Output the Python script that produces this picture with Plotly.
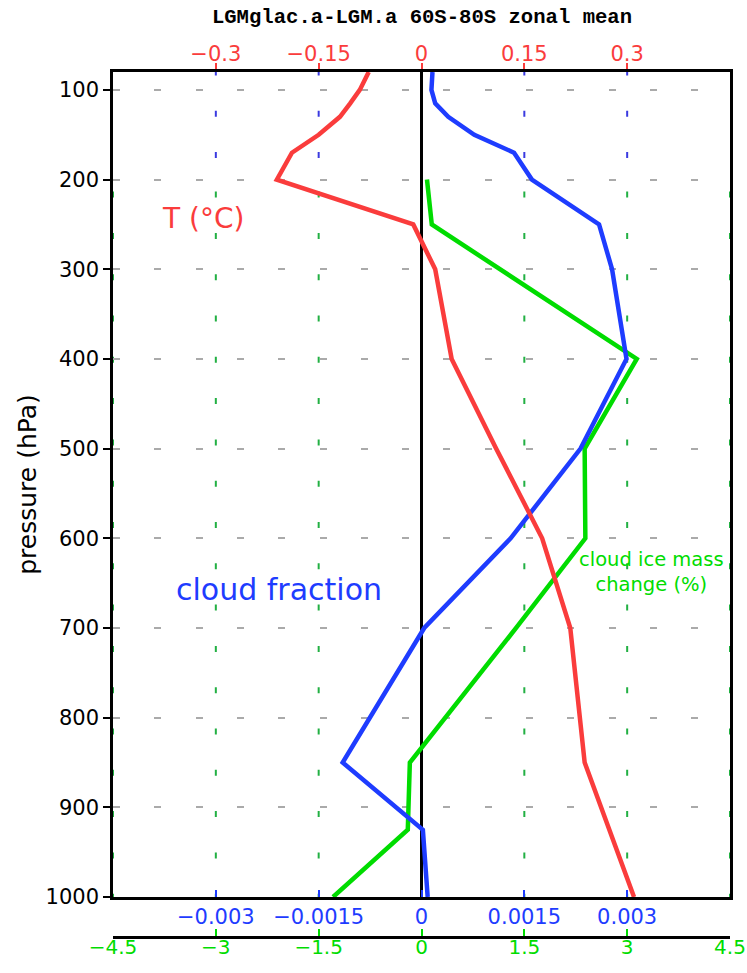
import plotly.graph_objects as go

# ---------------- data ----------------
t_pressure = [80, 100, 115, 130, 150, 170, 200, 250, 300, 400, 500, 600, 700, 850, 1000]
t_values = [-0.077, -0.090, -0.104, -0.119, -0.150, -0.189, -0.211, -0.012, 0.020,
            0.044, 0.109, 0.176, 0.217, 0.238, 0.310]

cf_pressure = [80, 100, 115, 130, 150, 170, 200, 250, 300, 400, 500, 600, 700, 850, 925, 1000]
cf_values = [0.00016, 0.000145, 0.0002, 0.00039, 0.00077, 0.00135, 0.00161, 0.00259,
             0.00278, 0.00299, 0.00232, 0.00130, 0.00004, -0.00115, 0.00002, 0.00009]

ice_pressure = [200, 250, 400, 500, 600, 700, 850, 925, 1000]
ice_values = [0.08, 0.15, 3.14, 2.38, 2.39, 1.38, -0.17, -0.20, -1.29]

p_ticks = [100, 200, 300, 400, 500, 600, 700, 800, 900, 1000]
t_ticks = [-0.3, -0.15, 0, 0.15, 0.3]
t_ticktext = ["\u22120.3", "\u22120.15", "0", "0.15", "0.3"]
cf_ticks = [-0.003, -0.0015, 0, 0.0015, 0.003]
cf_ticktext = ["\u22120.003", "\u22120.0015", "0", "0.0015", "0.003"]
ice_ticks = [-4.5, -3, -1.5, 0, 1.5, 3, 4.5]
ice_ticktext = ["\u22124.5", "\u22123", "\u22121.5", "0", "1.5", "3", "4.5"]

p_range = [1000, 80]
t_range = [-0.45, 0.45]
cf_range = [-0.0045, 0.0045]
ice_range = [-4.5, 4.5]
ice_top = 200  # top of cloud-ice data

RED = "#fa3c3c"
BLUE = "#1e3cff"
GREEN = "#00dc00"
GRID_GREEN = "#22b043"
GRID_BLUE = "#3a3ae0"
GREY = "#aaaaaa"
FONT = "DejaVu Sans"
TICK_SIZE = 21

W, H = 747, 973

fig = go.Figure()

fig.add_trace(go.Scatter(x=cf_values, y=cf_pressure, mode="lines", xaxis="x2", yaxis="y",
                         line=dict(color=BLUE, width=4.5), showlegend=False))
fig.add_trace(go.Scatter(x=ice_values, y=ice_pressure, mode="lines", xaxis="x", yaxis="y",
                         line=dict(color=GREEN, width=4.5), showlegend=False))
fig.add_trace(go.Scatter(x=t_values, y=t_pressure, mode="lines", xaxis="x3", yaxis="y",
                         line=dict(color=RED, width=4.5), showlegend=False))

shapes = []
# vertical dashed grid: blue above the ice data top, green below
for v in cf_ticks:
    shapes.append(dict(type="line", xref="x2", yref="y", x0=v, x1=v, y0=p_range[1], y1=ice_top,
                       line=dict(color=GRID_BLUE, width=2, dash="3.5px,35.3px,2.5px,0px"),
                       layer="below"))
for v in ice_ticks:
    shapes.append(dict(type="line", xref="x", yref="y", x0=v, x1=v, y0=ice_top, y1=p_range[0],
                       line=dict(color=GRID_GREEN, width=2, dash="0px,12px,6px,23.3px"),
                       layer="below"))

fig.update_layout(
    width=W, height=H,
    margin=dict(l=113, r=17, t=72, b=36, autoexpand=False),
    paper_bgcolor="white", plot_bgcolor="white",
    font=dict(family=FONT, size=TICK_SIZE, color="black"),
    title=dict(text="<b>LGMglac.a-LGM.a 60S-80S zonal mean</b>",
               font=dict(family="Liberation Mono", size=20.6, color="black"),
               x=422 / W, xanchor="center", y=1 - 16 / H, yanchor="middle"),
    shapes=shapes,
    yaxis=dict(range=p_range, domain=[40 / 865, 1], anchor="x", automargin=False,
               tickvals=p_ticks, ticks="outside", ticklen=7, tickwidth=2, tickcolor="black",
               showline=True, linecolor="black", linewidth=2.5, mirror=True,
               showgrid=True, gridcolor=GREY, gridwidth=2, griddash="7px,34.3px",
               zeroline=False,
               tickfont=dict(family=FONT, size=TICK_SIZE, color="black"),
               title=dict(text="pressure (hPa)", font=dict(family=FONT, size=25, color="black"),
                          standoff=2)),
    xaxis=dict(range=ice_range, anchor="free", position=0, automargin=False,
               tickvals=ice_ticks, ticktext=ice_ticktext, ticks="inside", ticklen=7, tickwidth=2,
               tickcolor=GREEN, showline=True, linecolor="black", linewidth=2.5,
               showgrid=False, zeroline=False, ticklabelstandoff=-9,
               ticklabeloverflow="allow",
               tickfont=dict(family=FONT, size=20, color=GREEN)),
    xaxis2=dict(range=cf_range, overlaying="x", anchor="y", side="bottom", automargin=False,
                tickvals=cf_ticks, ticktext=cf_ticktext, ticks="inside", ticklen=7, tickwidth=2,
                tickcolor=BLUE, showline=True, linecolor="black", linewidth=2.5,
                showgrid=False, zeroline=True, zerolinecolor="black", zerolinewidth=2.5,
                ticklabelstandoff=-1,
                tickfont=dict(family=FONT, size=TICK_SIZE, color=BLUE)),
    xaxis3=dict(range=t_range, overlaying="x", anchor="y", side="top", automargin=False,
                tickvals=t_ticks, ticktext=t_ticktext, ticks="outside", ticklen=6, tickwidth=2,
                tickcolor=RED, showline=True, linecolor="black", linewidth=2.5,
                showgrid=False, zeroline=False, ticklabelstandoff=-6,
                tickfont=dict(family=FONT, size=TICK_SIZE, color=RED)),
    annotations=[
        dict(text="T (\u00b0C)", xref="x", yref="y", x=-3.18, y=243, showarrow=False,
             font=dict(family=FONT, size=28, color=RED), xanchor="center", yanchor="middle"),
        dict(text="cloud fraction", xref="x", yref="y", x=-2.08, y=657, showarrow=False,
             font=dict(family=FONT, size=30, color=BLUE), xanchor="center", yanchor="middle"),
        dict(text="cloud ice mass<br>change (%)", xref="x", yref="y", x=3.36, y=638,
             showarrow=False, align="center",
             font=dict(family=FONT, size=19.5, color=GREEN), xanchor="center", yanchor="middle"),
    ],
)

fig.write_html("out.html", config={"displayModeBar": False},
               post_script="document.body.style.margin='0';")
